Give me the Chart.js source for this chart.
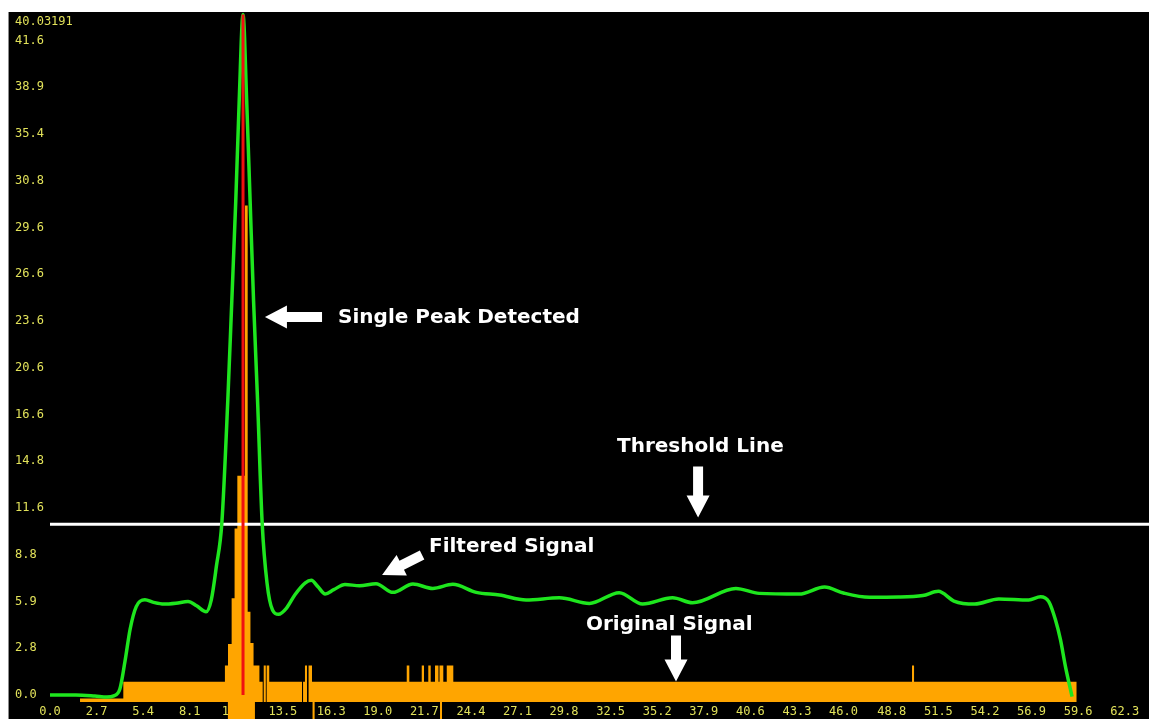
<!DOCTYPE html>
<html>
<head>
<meta charset="utf-8">
<script src="https://cdn.jsdelivr.net/npm/chart.js@4.4.1/dist/chart.umd.min.js"></script>
<style>
  html, body { margin: 0; padding: 0; background: #ffffff; }
  #frame {
    position: absolute; left: 8px; top: 12px;
    width: 1140px; height: 707px;
    background: #000000;
    border-left: 1px solid #8c8c8c;
  }
  canvas { display: block; }
</style>
</head>
<body>
<div id="frame"><canvas id="c" width="1140" height="707"></canvas></div>
<script>
// Filtered (smoothed) signal
const filteredX = [0, 1.5, 2.6, 3.3, 3.7, 4.05, 4.35, 4.65, 5.0, 5.5, 6.0, 6.6, 7.3, 8.0, 8.5, 9.05, 9.35, 9.65, 9.96,
  10.31, 10.54, 10.77, 10.97, 11.19, 11.40, 11.60, 11.80, 12.03, 12.30, 12.58, 12.9, 13.25, 13.7, 14.2, 14.8, 15.15,
  15.55, 15.95, 16.45, 17.1, 17.95, 18.9, 19.88, 21.04, 22.19, 23.35, 24.71, 26.06, 27.6, 29.53, 31.27, 33.0, 34.35,
  36.09, 37.25, 39.76, 41.11, 43.43, 44.9, 46.0, 47.5, 49.2, 50.6, 51.5, 52.4, 53.6, 55.0, 56.74, 57.42, 57.9, 58.29,
  58.58, 58.87, 59.25];
const filteredY = [0, 0, -0.06, -0.12, -0.05, 0.35, 2.0, 3.9, 5.2, 5.6, 5.45, 5.35, 5.4, 5.5, 5.25, 4.9, 5.6, 7.6, 10.1,
  17.4, 23.2, 29.1, 35.0, 40.03191, 35.0, 29.1, 23.2, 17.4, 10.1, 6.6, 5.0, 4.75, 5.1, 5.9, 6.6, 6.75,
  6.35, 5.95, 6.2, 6.5, 6.43, 6.55, 6.04, 6.53, 6.27, 6.51, 6.04, 5.88, 5.59, 5.72, 5.39, 6.02, 5.35,
  5.72, 5.43, 6.27, 5.98, 5.94, 6.35, 6.0, 5.75, 5.76, 5.85, 6.1, 5.53, 5.35, 5.65, 5.59, 5.78, 5.49, 4.41,
  3.24, 1.66, -0.1];

// Original signal: each level holds from its x until the next x
const originalX = [1.74, 4.25, 10.14, 10.32, 10.53, 10.70, 10.86, 11.30, 11.46, 11.62, 11.80, 12.14, 12.33, 12.39,
  12.51, 12.56, 12.71, 14.61, 14.67, 14.78, 14.90, 14.99, 15.19, 20.68, 20.83, 21.55, 21.68, 21.93, 22.07,
  22.32, 22.52, 22.58, 22.80, 23.00, 23.38, 49.97, 50.09, 59.52];
const originalY = [-0.2, 0.78, 1.74, 3.0, 5.7, 9.8, 12.9, 28.8, 4.9, 3.06, 1.74, 0.78, -0.41, 1.74,
  -0.41, 1.74, 0.78, -0.41, 0.78, 1.74, -0.41, 1.74, 0.78, 1.74, 0.78, 1.74, 0.78, 1.74, 0.78,
  1.74, 0.78, 1.74, 0.78, 1.74, 0.78, 1.74, 0.78, -0.41];

// Original signal excursions below the baseline
const originalLowX = [10.30, 11.88, 15.22, 15.34, 22.61, 22.73];
const originalLowY = [-1.6, -0.41, -1.6, -0.41, -1.6, -0.41];

const signalBase = -0.41;
const peakX = 11.19;
const peakValue = 40.03191;
const thresholdValue = 10.05;

const xTickLabels = ['0.0', '2.7', '5.4', '8.1', '10.8', '13.5', '16.3', '19.0', '21.7', '24.4', '27.1', '29.8',
  '32.5', '35.2', '37.9', '40.6', '43.3', '46.0', '48.8', '51.5', '54.2', '56.9', '59.6', '62.3'];
const yTickLabels = ['0.0', '2.8', '5.9', '8.8', '11.6', '14.8', '16.6', '20.6', '23.6', '26.6', '29.6', '30.8',
  '35.4', '38.9', '41.6'];
const yTickStep = 2.75;

const X_MIN = 0, X_MAX = 63.71, Y_MIN = -1.41, Y_MAX = 40.18;

const toPoints = (xs, ys) => xs.map((x, i) => ({ x, y: ys[i] }));

// Callouts (anchored in data units)
const notes = [
  { text: 'Single Peak Detected', x: 16.70, y: 22.18 },
  { text: 'Threshold Line', x: 32.87, y: 14.59 },
  { text: 'Filtered Signal', x: 21.97, y: 8.71 },
  { text: 'Original Signal', x: 31.07, y: 4.12 }
];
const pointers = [
  { from: [15.77, 22.24], to: [12.46, 22.24] },
  { from: [37.57, 13.45], to: [37.57, 10.45] },
  { from: [21.57, 8.24], to: [19.25, 7.06] },
  { from: [36.29, 3.50], to: [36.29, 0.80] }
];

const calloutPlugin = {
  id: 'callouts',
  afterDatasetsDraw(chart) {
    const { ctx, scales: { x, y } } = chart;
    ctx.save();
    ctx.fillStyle = '#ffffff';
    ctx.font = 'bold 20px "DejaVu Sans", Verdana, sans-serif';
    ctx.textAlign = 'left';
    ctx.textBaseline = 'middle';
    notes.forEach(n => ctx.fillText(n.text, x.getPixelForValue(n.x), y.getPixelForValue(n.y)));

    const shaft = 10, headW = 23, headL = 22;
    pointers.forEach(p => {
      const x1 = x.getPixelForValue(p.from[0]), y1 = y.getPixelForValue(p.from[1]);
      const x2 = x.getPixelForValue(p.to[0]), y2 = y.getPixelForValue(p.to[1]);
      const len = Math.hypot(x2 - x1, y2 - y1);
      const ux = (x2 - x1) / len, uy = (y2 - y1) / len;
      const nx = -uy, ny = ux;
      const bx = x2 - ux * headL, by = y2 - uy * headL;
      ctx.beginPath();
      ctx.moveTo(x1 + nx * shaft / 2, y1 + ny * shaft / 2);
      ctx.lineTo(bx + nx * shaft / 2, by + ny * shaft / 2);
      ctx.lineTo(bx + nx * headW / 2, by + ny * headW / 2);
      ctx.lineTo(x2, y2);
      ctx.lineTo(bx - nx * headW / 2, by - ny * headW / 2);
      ctx.lineTo(bx - nx * shaft / 2, by - ny * shaft / 2);
      ctx.lineTo(x1 - nx * shaft / 2, y1 - ny * shaft / 2);
      ctx.closePath();
      ctx.fill();
    });
    ctx.restore();
  }
};

const tickColor = '#e2e25a';
const yTickValues = yTickLabels.map((_, i) => i * yTickStep).concat([peakValue]);
const yTickText = yTickLabels.concat([['', peakValue.toFixed(5)]]);

// Axes sit on the chart area edges: no reserved room for label overhang
const flushScale = (w, h) => s => {
  if (w !== null) s.width = w;
  if (h !== null) s.height = h;
  s.paddingTop = 0; s.paddingBottom = 0; s.paddingLeft = 0; s.paddingRight = 0;
};

new Chart(document.getElementById('c'), {
  type: 'line',
  data: {
    datasets: [
      {
        label: 'Peak',
        data: [{ x: peakX, y: 0 }, { x: peakX, y: peakValue }],
        borderColor: '#f01010',
        borderWidth: 3,
        pointRadius: 0,
        order: 0
      },
      {
        label: 'Filtered Signal',
        data: toPoints(filteredX, filteredY),
        borderColor: '#1ee61e',
        borderWidth: 3.5,
        pointRadius: 0,
        cubicInterpolationMode: 'monotone',
        order: 1
      },
      {
        label: 'Threshold Line',
        data: [{ x: X_MIN, y: thresholdValue }, { x: X_MAX, y: thresholdValue }],
        borderColor: '#ffffff',
        borderWidth: 3,
        pointRadius: 0,
        order: 2
      },
      {
        label: 'Original Signal',
        data: toPoints(originalX, originalY),
        stepped: true,
        borderColor: 'rgba(0,0,0,0)',
        borderWidth: 1,
        backgroundColor: '#ffa500',
        fill: { value: signalBase },
        pointRadius: 0,
        order: 3
      },
      {
        label: 'Original Signal (low)',
        data: toPoints(originalLowX, originalLowY),
        stepped: true,
        borderColor: 'rgba(0,0,0,0)',
        borderWidth: 1,
        backgroundColor: '#ffa500',
        fill: { value: signalBase },
        pointRadius: 0,
        order: 4
      }
    ]
  },
  options: {
    responsive: false,
    devicePixelRatio: 1,
    animation: false,
    events: [],
    layout: { padding: 0 },
    plugins: {
      legend: { display: false },
      tooltip: { enabled: false }
    },
    scales: {
      x: {
        type: 'linear',
        min: X_MIN,
        max: X_MAX,
        z: 1,
        grid: { display: false },
        border: { display: false },
        afterFit: flushScale(null, 0),
        afterBuildTicks: s => { s.ticks = xTickLabels.map(t => ({ value: parseFloat(t) })); },
        ticks: {
          autoSkip: false,
          maxRotation: 0,
          mirror: true,
          padding: 0,
          color: tickColor,
          font: { family: '"DejaVu Sans Mono", monospace', size: 12 },
          callback: (v, i) => xTickLabels[i]
        }
      },
      y: {
        type: 'linear',
        min: Y_MIN,
        max: Y_MAX,
        grid: { display: false },
        border: { display: false },
        afterFit: flushScale(41, null),
        afterBuildTicks: s => { s.ticks = yTickValues.map(v => ({ value: v })); },
        ticks: {
          autoSkip: false,
          mirror: true,
          padding: -35,
          color: tickColor,
          font: { family: '"DejaVu Sans Mono", monospace', size: 12 },
          callback: (v, i) => yTickText[i]
        }
      }
    }
  },
  plugins: [calloutPlugin]
});
</script>
</body>
</html>
